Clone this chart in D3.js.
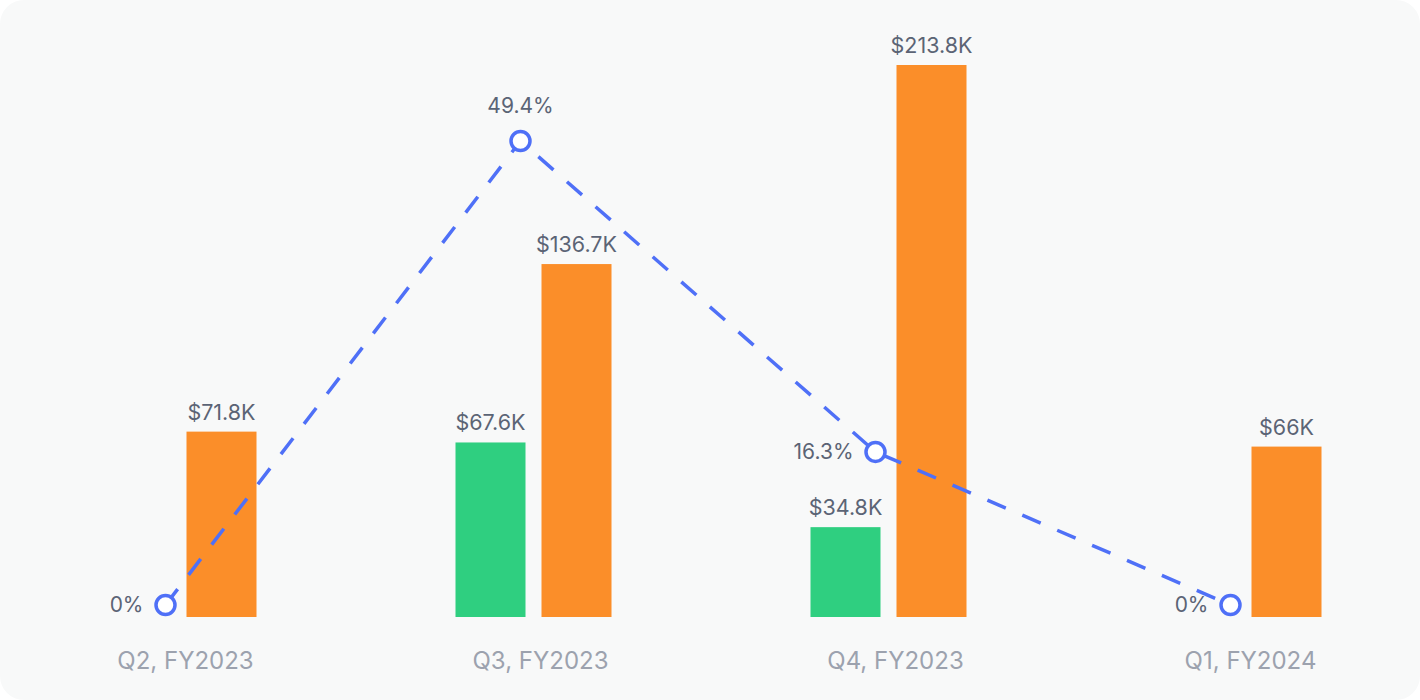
<!DOCTYPE html>
<html>
<head>
<meta charset="utf-8">
<script src="https://cdn.jsdelivr.net/npm/d3@7"></script>
<style>
  html, body { margin: 0; padding: 0; background: #ffffff; }
  svg { display: block; }
  text { font-family: Inter, "Noto Sans", sans-serif; }
</style>
</head>
<body>
<svg id="chart" width="1420" height="700"></svg>
<script>
// ---- data ----
const categories = ["Q2, FY2023", "Q3, FY2023", "Q4, FY2023", "Q1, FY2024"];
const seriesKeys = ["green", "orange"];
const greenValues = [null, 67.6, 34.8, null];      // $K
const orangeValues = [71.8, 136.7, 213.8, 66];     // $K
const growthPct = [0, 49.4, 16.3, 0];              // %

// ---- setup ----
const W = 1420, H = 700;
const svg = d3.select("#chart");

svg.append("rect")
  .attr("x", 0).attr("y", 0).attr("width", W).attr("height", H)
  .attr("rx", 24).attr("fill", "#f8f9f9");

const x = d3.scaleBand().domain(categories).range([8, 1428]).padding(0);
const xInner = d3.scaleBand().domain(seriesKeys)
  .range([-85, 71]).paddingInner(16 / 86);

const y = d3.scaleLinear()
  .domain([0, d3.max(orangeValues.concat(greenValues.filter(v => v != null)))])
  .range([617, 65]);

const yPct = d3.scaleLinear().domain([0, d3.max(growthPct)]).range([605, 141]);

const colors = { green: "#2fcf80", orange: "#fb8e29" };

const rows = categories.map((c, i) => ({
  cat: c, green: greenValues[i], orange: orangeValues[i], pct: growthPct[i]
}));

const fmtK = v => "$" + v + "K";

// ---- bars ----
const groups = svg.append("g").selectAll("g").data(rows).join("g")
  .attr("transform", d => `translate(${x(d.cat) + x.bandwidth() / 2},0)`);

const barData = d => seriesKeys.filter(k => d[k] != null).map(k => ({ key: k, value: d[k] }));

groups.selectAll("rect").data(barData).join("rect")
  .attr("x", d => xInner(d.key))
  .attr("width", xInner.bandwidth())
  .attr("y", d => y(d.value))
  .attr("height", d => y(0) - y(d.value))
  .attr("fill", d => colors[d.key]);

groups.selectAll("text.val").data(barData).join("text")
  .attr("class", "val")
  .attr("x", d => xInner(d.key) + xInner.bandwidth() / 2)
  .attr("y", d => y(d.value) - 12)
  .attr("text-anchor", "middle")
  .attr("font-size", 21.5)
  .attr("fill", "#5b6475")
  .text(d => fmtK(d.value));

// ---- x axis labels ----
const xAxis = d3.axisBottom(x).tickSize(0).tickPadding(0);
const gx = svg.append("g").attr("transform", "translate(0,652)").call(xAxis);
gx.select(".domain").remove();
gx.selectAll("text")
  .attr("dy", "0.71em")
  .attr("font-size", 24)
  .attr("font-family", "Inter, 'Noto Sans', sans-serif")
  .attr("fill", "#9ca2ae");

// ---- growth line ----
const lineX = d => x(d.cat) + x.bandwidth() / 2 - 20;
const line = d3.line().x(lineX).y(d => yPct(d.pct));

svg.append("path")
  .datum(rows)
  .attr("d", line)
  .attr("fill", "none")
  .attr("stroke", "#4f70f7")
  .attr("stroke-width", 3.5)
  .attr("stroke-dasharray", "20,18");

svg.append("g").selectAll("circle").data(rows).join("circle")
  .attr("cx", lineX)
  .attr("cy", d => yPct(d.pct))
  .attr("r", 9.5)
  .attr("fill", "#ffffff")
  .attr("stroke", "#4f70f7")
  .attr("stroke-width", 3.5);

const maxPct = d3.max(growthPct);
svg.append("g").selectAll("text").data(rows).join("text")
  .attr("x", d => d.pct === maxPct ? lineX(d) : lineX(d) - 22)
  .attr("y", d => d.pct === maxPct ? yPct(d.pct) - 28 : yPct(d.pct) + 7)
  .attr("text-anchor", d => d.pct === maxPct ? "middle" : "end")
  .attr("font-size", 21)
  .attr("fill", "#5b6475")
  .text(d => d.pct + "%");
</script>
</body>
</html>
